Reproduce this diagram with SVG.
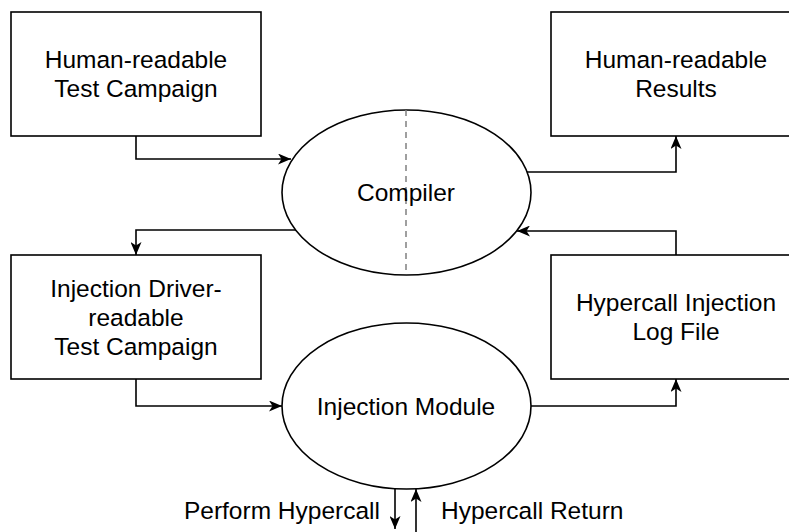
<svg xmlns="http://www.w3.org/2000/svg" width="789" height="532" viewBox="0 0 789 532">
<style>
.box{fill:#fff;stroke:#000;stroke-width:1.6}
.ell{fill:#fff;stroke:#000;stroke-width:1.6}
.con{fill:none;stroke:#000;stroke-width:1.6}
.t{font-family:"Liberation Sans",Arial,Helvetica,sans-serif;font-size:24.5px;fill:#000;text-anchor:middle}
.dash{stroke:#808080;stroke-width:1.5;stroke-dasharray:6 5;fill:none}
</style>
<defs>
<marker id="ah" viewBox="0 0 13 11" refX="13" refY="5.5" markerWidth="13" markerHeight="11" markerUnits="userSpaceOnUse" orient="auto">
<path d="M0,0 L13,5.5 L0,11 L3.5,5.5 Z" fill="#000"/>
</marker>
</defs>
<rect width="789" height="532" fill="#fff"/>
<g id="connectors">
<path class="con" d="M136,136 V159 H291" marker-end="url(#ah)"/>
<path class="con" d="M527,172 H676 V136" marker-end="url(#ah)"/>
<path class="con" d="M676,255 V231 H517" marker-end="url(#ah)"/>
<path class="con" d="M296,230 H136 V255" marker-end="url(#ah)"/>
<path class="con" d="M136,379 V406 H282" marker-end="url(#ah)"/>
<path class="con" d="M531,406 H676 V379" marker-end="url(#ah)"/>
<path class="con" d="M395,489 V529" marker-end="url(#ah)"/>
<path class="con" d="M416,532 V489" marker-end="url(#ah)"/>
</g>
<g id="test-campaign">
<rect class="box" x="11" y="12" width="250" height="124"/>
<text class="t" x="136" y="68">Human-readable</text>
<text class="t" x="136" y="97">Test Campaign</text>
</g>
<g id="results">
<rect class="box" x="551" y="12" width="250" height="124"/>
<text class="t" x="676" y="68">Human-readable</text>
<text class="t" x="676" y="97">Results</text>
</g>
<g id="compiler">
<ellipse class="ell" cx="406.5" cy="192.5" rx="124.5" ry="82.5"/>
<line class="dash" x1="406" y1="110" x2="406" y2="275"/>
<text class="t" x="406" y="201">Compiler</text>
</g>
<g id="driver-campaign">
<rect class="box" x="11" y="255" width="250" height="124"/>
<text class="t" x="136" y="297">Injection Driver-</text>
<text class="t" x="136" y="326">readable</text>
<text class="t" x="136" y="355">Test Campaign</text>
</g>
<g id="log-file">
<rect class="box" x="551" y="255" width="250" height="124"/>
<text class="t" x="676" y="311">Hypercall Injection</text>
<text class="t" x="676" y="340">Log File</text>
</g>
<g id="injection-module">
<ellipse class="ell" cx="406.5" cy="406" rx="124.5" ry="83"/>
<text class="t" x="406" y="415">Injection Module</text>
</g>
<g id="labels">
<text class="t" x="380" y="519" style="text-anchor:end">Perform Hypercall</text>
<text class="t" x="441" y="519" style="text-anchor:start">Hypercall Return</text>
</g>
</svg>
